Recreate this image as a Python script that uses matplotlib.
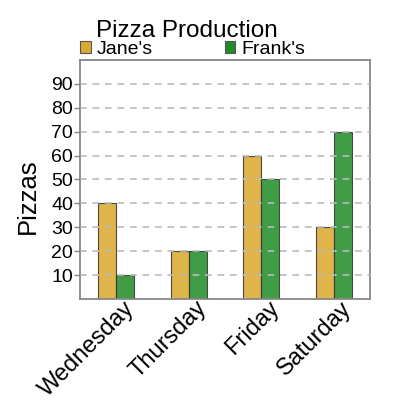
import numpy as np
import matplotlib
matplotlib.use("Agg")
import matplotlib.pyplot as plt
import matplotlib.transforms as mtransforms
from matplotlib.patches import Patch

plt.rcParams['font.family'] = ['Liberation Sans', 'DejaVu Sans']

days = ['Wednesday', 'Thursday', 'Friday', 'Saturday']
janes = [40, 20, 60, 30]
franks = [10, 20, 50, 70]
yticks = [10, 20, 30, 40, 50, 60, 70, 80, 90]

col_jane = '#DAAA32'
col_frank = '#1F8C24'

fig = plt.figure(figsize=(4, 4), dpi=100)
ax = fig.add_axes([0.2, 0.2525, 0.725, 0.5975])

x = np.arange(len(days))
w = 0.25
ax.bar(x - w / 2, janes, w, color=col_jane, alpha=0.88, edgecolor='#333333', linewidth=0.8, zorder=1)
ax.bar(x + w / 2, franks, w, color=col_frank, alpha=0.85, edgecolor='#333333', linewidth=0.8, zorder=1)

ax.set_xlim(-0.5, 3.5)
ax.set_ylim(0, 100)
ax.set_yticks(yticks)
ax.set_yticklabels([str(v) for v in yticks], fontsize=14)
ax.set_xticks(x)
ax.set_xticklabels(days, fontsize=17, rotation=45, ha='right', va='top', rotation_mode='anchor')
ax.tick_params(axis='x', length=0, pad=3)
ax.tick_params(axis='y', length=4, width=1, color='#888888', pad=1)

# nudge the rotated day labels a little right and up
shift = mtransforms.ScaledTranslation(0.07, 0.06, fig.dpi_scale_trans)
for lab in ax.get_xticklabels():
    lab.set_transform(lab.get_transform() + shift)

ax.grid(axis='y', color='#bbbbbb', linestyle=(0, (4, 3.5)), linewidth=1.2, zorder=2)
ax.set_axisbelow(False)
for s in ax.spines.values():
    s.set_color('#888888')
    s.set_linewidth(1.3)

ax.set_ylabel('Pizzas', fontsize=18.5)
ax.yaxis.set_label_coords(-0.137, 0.43)

fig.text(0.4675, 0.9075, 'Pizza Production', fontsize=17.5, ha='center', va='baseline')

handles = [Patch(facecolor=col_jane, edgecolor='#555555', linewidth=0.8, label="Jane's"),
           Patch(facecolor=col_frank, edgecolor='#555555', linewidth=0.8, label="Frank's")]
ax.legend(handles=handles, loc='lower left', bbox_to_anchor=(0.0, 1.01), ncol=2,
          frameon=False, fontsize=14, handlelength=0.55, handleheight=0.55,
          handletextpad=0.3, columnspacing=3.7, borderpad=0, borderaxespad=0)

fig.savefig('out.png', dpi=100)
